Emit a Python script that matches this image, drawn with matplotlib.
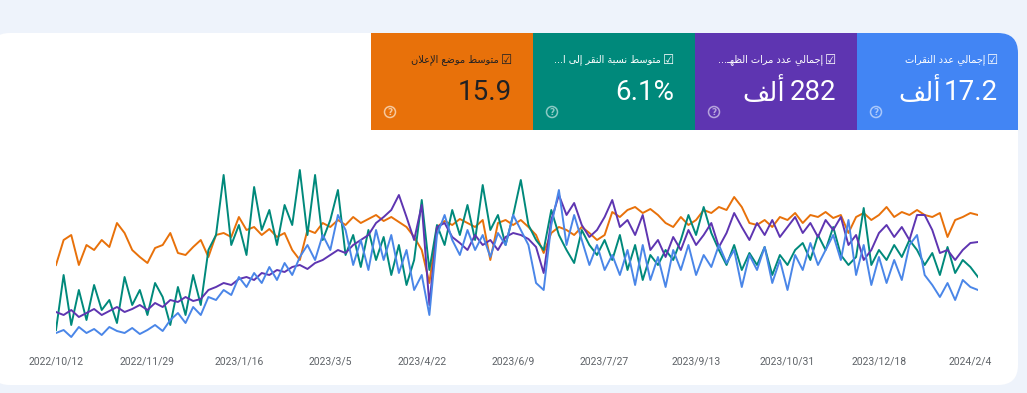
import matplotlib
matplotlib.use("Agg")
import matplotlib.pyplot as plt
import numpy as np
import pandas as pd
from matplotlib.patches import FancyBboxPatch, Rectangle, Circle

# daily series sampled every 4 days, values are relative chart heights (0-200)
start_date = "2022-10-12"
step_days = 4

position = [80, 105, 110, 80, 100, 95, 105, 98, 122, 112, 95, 88, 82, 97, 100, 112, 92, 90, 98, 105,
            88, 110, 112, 108, 128, 115, 118, 110, 116, 108, 112, 95, 85, 115, 112, 122, 118, 125, 120, 128,
            122, 126, 130, 124, 128, 123, 118, 108, 95, 62, 118, 124, 120, 126, 122, 118, 125, 85, 122, 125,
            120, 125, 118, 110, 92, 112, 118, 115, 110, 118, 112, 105, 110, 133, 128, 135, 138, 132, 136, 130,
            122, 118, 128, 120, 125, 135, 132, 138, 135, 148, 138, 122, 120, 125, 118, 128, 125, 132, 122, 130,
            128, 133, 127, 130, 112, 128, 132, 125, 130, 138, 128, 133, 130, 135, 130, 128, 132, 108, 125, 128,
            132, 130]

clicks = [12, 15, 8, 18, 12, 16, 10, 18, 14, 12, 17, 11, 15, 20, 14, 25, 32, 22, 38, 30,
          48, 45, 55, 50, 68, 58, 72, 62, 78, 65, 82, 70, 88, 100, 85, 110, 95, 130, 115, 80,
          105, 75, 115, 85, 110, 72, 95, 55, 70, 30, 110, 130, 105, 90, 115, 95, 110, 88, 112, 100,
          130, 115, 100, 62, 55, 120, 155, 100, 130, 105, 80, 100, 75, 90, 70, 95, 60, 100, 65, 88,
          58, 95, 75, 100, 70, 90, 78, 100, 82, 95, 58, 90, 75, 98, 62, 85, 55, 90, 75, 102,
          80, 95, 110, 85, 125, 70, 100, 60, 88, 62, 85, 65, 100, 110, 70, 60, 48, 62, 45, 65,
          58, 55]

impressions = [33, 30, 35, 28, 32, 36, 30, 34, 38, 33, 36, 40, 35, 42, 38, 45, 43, 48, 44, 46,
               55, 58, 62, 60, 66, 68, 65, 72, 70, 75, 73, 78, 80, 76, 82, 85, 90, 95, 92, 100,
               105, 110, 122, 128, 135, 150, 128, 105, 140, 40, 118, 122, 108, 102, 95, 110, 100, 105, 95, 108,
               112, 110, 106, 98, 72, 125, 150, 130, 142, 120, 108, 115, 128, 145, 118, 125, 110, 130, 95, 105,
               88, 108, 95, 115, 100, 110, 122, 98, 112, 132, 118, 105, 122, 110, 125, 108, 118, 128, 112, 122,
               108, 125, 115, 128, 100, 110, 85, 95, 112, 120, 108, 118, 105, 130, 130, 115, 92, 95, 85, 95,
               102, 103]

ctr = [15, 70, 20, 55, 25, 60, 35, 45, 22, 68, 40, 55, 30, 62, 48, 20, 58, 30, 70, 40,
       95, 110, 170, 100, 120, 90, 158, 115, 135, 100, 140, 120, 175, 110, 170, 105, 125, 155, 90, 110,
       78, 115, 85, 108, 70, 100, 60, 85, 145, 75, 120, 100, 135, 110, 140, 105, 160, 115, 130, 100,
       130, 165, 120, 105, 95, 135, 110, 95, 82, 115, 100, 90, 105, 85, 110, 75, 100, 65, 90, 80,
       95, 85, 105, 130, 110, 138, 112, 95, 80, 100, 75, 92, 80, 98, 70, 90, 80, 95, 102, 85,
       110, 95, 118, 90, 80, 88, 137, 80, 95, 85, 100, 88, 105, 95, 80, 92, 70, 98, 72, 85,
       78, 68]

tick_labels = ["2022/10/12", "2022/11/29", "2023/1/16", "2023/3/5", "2023/4/22", "2023/6/9",
               "2023/7/27", "2023/9/13", "2023/10/31", "2023/12/18", "2024/2/4"]

card_labels = ["متوسط موضع الإعلان", "متوسط نسبة النقر إلى ا", "إجمالي عدد مرات الظهـ", "إجمالي عدد النقرات"]
card_values = ["15.9", "6.1%", "282", "17.2"]
card_units = ["", "", "ألف", "ألف"]
card_colors = ["#e8710a", "#00897b", "#5e35b1", "#4285f4"]

# ---- minimal arabic shaping (matplotlib has no complex text layout) ----
DUAL = {"ب": 0xFE8F, "ت": 0xFE95, "ج": 0xFE9D, "س": 0xFEB1, "ض": 0xFEBD, "ط": 0xFEC1,
        "ظ": 0xFEC5, "ع": 0xFEC9, "ف": 0xFED1, "ق": 0xFED5, "ل": 0xFEDD, "م": 0xFEE1,
        "ن": 0xFEE5, "ه": 0xFEE9, "ي": 0xFEF1}
RIGHT = {"ا": 0xFE8D, "أ": 0xFE83, "إ": 0xFE87, "ة": 0xFE93, "د": 0xFEA9, "ر": 0xFEAD,
         "و": 0xFEED, "ى": 0xFEEF}
LAM_ALEF = {"ا": 0xFEFB, "أ": 0xFEF7, "إ": 0xFEF9}


def joins_next(c):
    return c in DUAL or c == "ـ"


def shape(text):
    out = []
    n = len(text)
    i = 0
    while i < n:
        c = text[i]
        prev = i > 0 and joins_next(text[i - 1])
        if c == "ل" and i + 1 < n and text[i + 1] in LAM_ALEF:
            out.append(chr(LAM_ALEF[text[i + 1]] + (1 if prev else 0)))
            i += 2
            continue
        if c in DUAL:
            nxt = i + 1 < n and (text[i + 1] in DUAL or text[i + 1] in RIGHT or text[i + 1] == "ـ")
            b = DUAL[c]
            if prev and nxt:
                out.append(chr(b + 3))
            elif prev:
                out.append(chr(b + 1))
            elif nxt:
                out.append(chr(b + 2))
            else:
                out.append(chr(b))
        elif c in RIGHT:
            out.append(chr(RIGHT[c] + (1 if prev else 0)))
        else:
            out.append(c)
        i += 1
    return "".join(reversed(out))


W, H = 1027, 393
fig = plt.figure(figsize=(W / 100, H / 100), dpi=100)
fig.patch.set_facecolor("#eef3fb")

bg = fig.add_axes([0, 0, 1, 1])
bg.set_xlim(0, W)
bg.set_ylim(H, 0)
bg.axis("off")

bg.add_patch(FancyBboxPatch((-10, 33), 1028, 352, boxstyle="round,pad=0,rounding_size=20",
                            fc="white", ec="none"))

card_x = [371, 533, 695, 857]
card_w = 162
for k in range(4):
    x0 = card_x[k]
    col = card_colors[k]
    if k == 3:
        bg.add_patch(FancyBboxPatch((x0, 33), 161, 97, boxstyle="round,pad=0,rounding_size=20",
                                    fc=col, ec="none"))
        bg.add_patch(Rectangle((x0, 33), 120, 97, fc=col, ec="none"))
        bg.add_patch(Rectangle((x0, 60), 161, 70, fc=col, ec="none"))
    else:
        bg.add_patch(Rectangle((x0, 33), card_w, 97, fc=col, ec="none"))
    tc = "#202124" if k == 0 else "white"
    right = x0 + card_w - 21
    bg.text(right, 60, "☑", color=tc, fontsize=9, ha="right", va="center", family="DejaVu Sans")
    lab = shape(card_labels[k])
    if k in (1, 2):
        lab = "..." + lab
    bg.text(right - 13, 60, lab, color=tc, fontsize=7, ha="right", va="center", family="DejaVu Sans")
    bg.text(right, 93, card_values[k], color=tc, fontsize=20, ha="right", va="center", family="Roboto")
    if card_units[k]:
        vw = 14.5 * len(card_values[k].replace(".", "")) + (5 if "." in card_values[k] else 0)
        bg.text(right - vw - 8, 93, shape(card_units[k]), color=tc, fontsize=19, ha="right",
                va="center", family="DejaVu Sans")
    ic = "#f6c89d" if k == 0 else (1, 1, 1, 0.55)
    bg.add_patch(Circle((x0 + 19, 112), 5.5, fc="none", ec=ic, lw=1.1))
    bg.text(x0 + 19, 112.5, "?", color=ic, fontsize=6.5, ha="center", va="center",
            family="DejaVu Sans", fontweight="bold")

# ---- line chart ----
n = len(clicks)
dates = pd.Timestamp(start_date) + pd.to_timedelta(np.arange(n) * step_days, unit="D")
tick_dates = pd.to_datetime(tick_labels, format="%Y/%m/%d")

ax = fig.add_axes([56 / W, 48 / H, (978 - 56) / W, 200 / H])
ax.set_facecolor("none")
ax.plot(dates, position, color="#e8710a", lw=1.4)
ax.plot(dates, ctr, color="#00897b", lw=1.4)
ax.plot(dates, impressions, color="#5e35b1", lw=1.4)
ax.plot(dates, clicks, color="#4a86e8", lw=1.4)
ax.set_xlim(dates[0], dates[-1])
ax.set_ylim(0, 200)
ax.set_yticks([])
ax.set_xticks(tick_dates)
ax.set_xticklabels(tick_labels, color="#5f6368", fontsize=7.5, family="Roboto")
ax.tick_params(axis="x", length=0, pad=8)
for s in ax.spines.values():
    s.set_visible(False)

fig.savefig("out.png", dpi=100, facecolor=fig.get_facecolor())
